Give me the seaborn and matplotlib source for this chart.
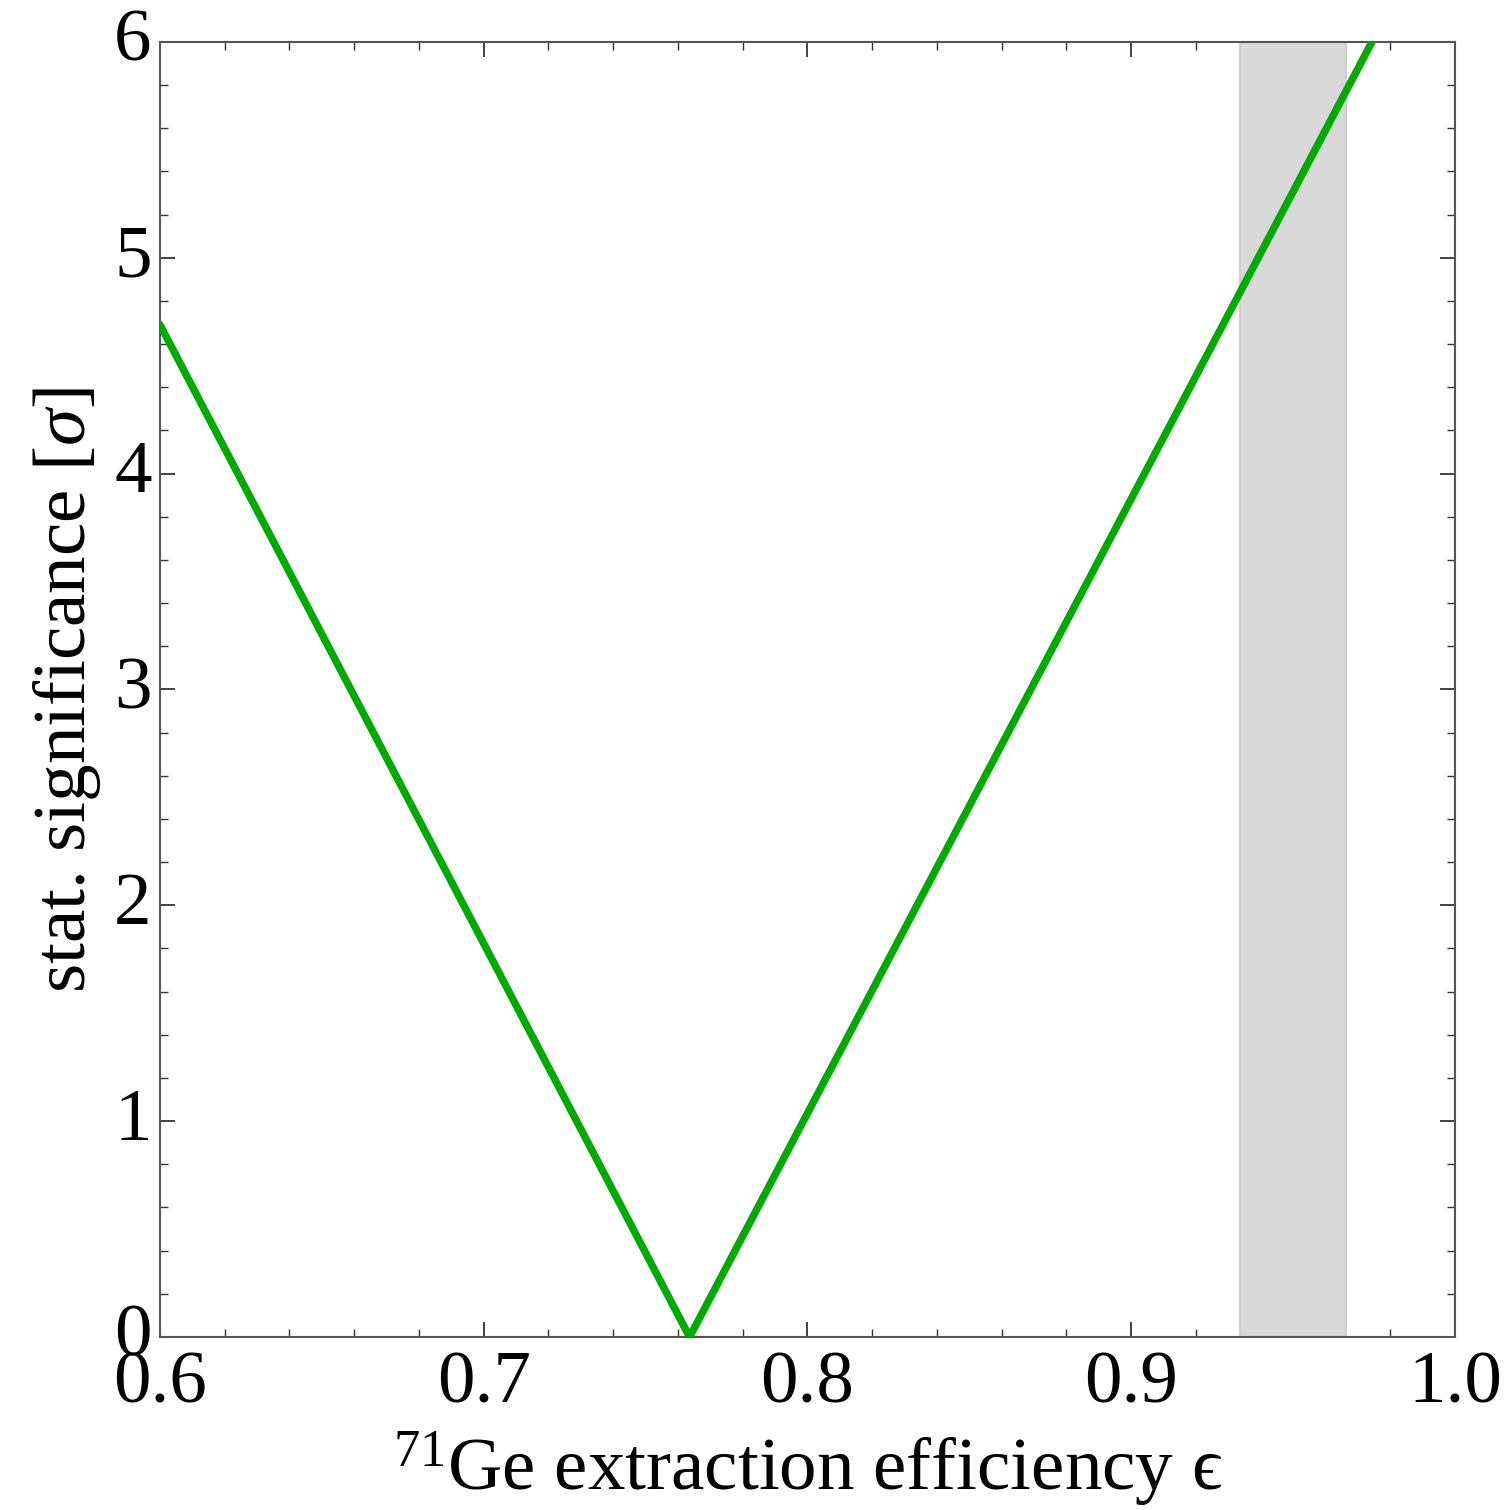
import numpy as np
import pandas as pd
import seaborn as sns
import matplotlib.pyplot as plt
import matplotlib.transforms as mtransforms
from matplotlib.ticker import MultipleLocator

# significance curve vs. extraction efficiency (piecewise linear, minimum near 0.764)
efficiency = [0.6, 0.7636, 1.0]
significance = [4.69, 0.0, 6.73]

# preferred efficiency range (shaded band)
band_lo = 0.9336
band_hi = 0.9663

sns.set_style("ticks")
plt.rcParams['font.family'] = ['Liberation Serif', 'DejaVu Serif']
plt.rcParams['mathtext.fontset'] = 'custom'
plt.rcParams['mathtext.rm'] = 'Liberation Serif'
plt.rcParams['mathtext.it'] = 'Liberation Serif:italic'
plt.rcParams['text.color'] = 'black'
plt.rcParams['axes.labelcolor'] = 'black'
plt.rcParams['xtick.color'] = 'black'
plt.rcParams['ytick.color'] = 'black'

fig = plt.figure(figsize=(15.06, 15.10), dpi=100)
ax = fig.add_axes([0.1062, 0.1146, 0.8599, 0.8576])

ax.axvspan(band_lo, band_hi, facecolor='#d9d9d9', edgecolor='#cfcfcf', lw=1.5, zorder=1)

df = pd.DataFrame({'eff': efficiency, 'sig': significance})
sns.lineplot(data=df, x='eff', y='sig', ax=ax, color='#00aa00', lw=5.4,
             solid_joinstyle='miter', zorder=3)

ax.set_xlim(0.6, 1.0)
ax.set_ylim(0, 6)
ax.xaxis.set_major_locator(MultipleLocator(0.1))
ax.xaxis.set_minor_locator(MultipleLocator(0.02))
ax.yaxis.set_major_locator(MultipleLocator(1))
ax.yaxis.set_minor_locator(MultipleLocator(0.2))
ax.xaxis.set_major_formatter(plt.FuncFormatter(lambda v, p: f"{v:.1f}"))
ax.yaxis.set_major_formatter(plt.FuncFormatter(lambda v, p: f"{v:.0f}"))

for s in ax.spines.values():
    s.set_color('#555555')
    s.set_linewidth(1.5)
    s.set_visible(True)

ax.tick_params(which='both', direction='in', top=True, right=True, color='#333333',
               labelcolor='black')
ax.tick_params(which='major', length=11, width=1.3, labelsize=54, pad=6)
ax.tick_params(which='minor', length=6, width=1.0)
ax.tick_params(axis='x', which='major', pad=10)

# lift the y tick labels slightly so "0" clears the x tick labels
lift = mtransforms.ScaledTranslation(0, 7 / 100, fig.dpi_scale_trans)
for lbl in ax.get_yticklabels():
    lbl.set_transform(lbl.get_transform() + lift)

ax.set_xlabel(r'$^{71}$Ge extraction efficiency ϵ', fontsize=54, labelpad=8)
ax.set_ylabel(r'stat. significance $[\sigma]$', fontsize=54, labelpad=8)

fig.savefig('out.png', dpi=100)
